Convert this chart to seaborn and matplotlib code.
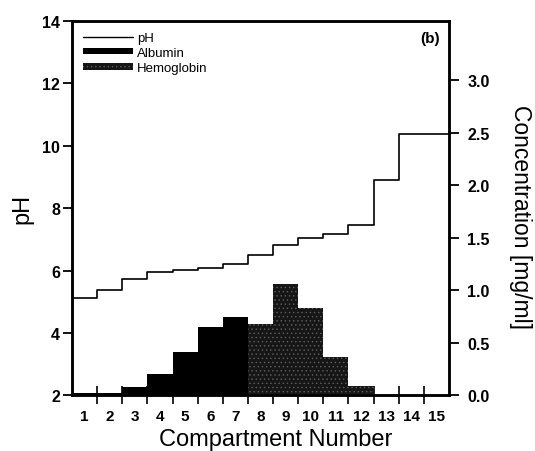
import numpy as np
import pandas as pd
import seaborn as sns
import matplotlib
matplotlib.use("Agg")
import matplotlib.pyplot as plt
from matplotlib.lines import Line2D
from matplotlib.patches import Patch

# ---- data ----
compartment = list(range(1, 16))
ph = [5.12, 5.39, 5.72, 5.96, 6.01, 6.08, 6.22, 6.51, 6.83, 7.04, 7.19, 7.45, 8.92, 10.39, 10.39]
albumin = [0.02, 0.02, 0.08, 0.20, 0.41, 0.65, 0.75, 0, 0, 0, 0, 0, 0, 0, 0]
hemoglobin = [0, 0, 0, 0, 0, 0, 0, 0.68, 1.06, 0.83, 0.37, 0.095, 0, 0, 0]
ph_ticks = [2, 4, 6, 8, 10, 12, 14]
conc_ticks = [0.0, 0.5, 1.0, 1.5, 2.0, 2.5, 3.0]

sns.set_theme(style="ticks")
plt.rcParams["font.family"] = ["Liberation Sans", "DejaVu Sans"]
plt.rcParams["hatch.linewidth"] = 0.5
for k in ("text.color", "axes.labelcolor", "xtick.color", "ytick.color", "axes.edgecolor"):
    plt.rcParams[k] = "black"

HB_FACE = "#161616"
HB_DOTS = "#5e5e5e"

fig = plt.figure(figsize=(5.35, 4.52), dpi=100)
ax = fig.add_axes([0.1346, 0.1228, 0.7047, 0.8285])
ax2 = ax.twinx()

# pH step line spanning compartment edges
comp = np.array(compartment, dtype=float)
edges = np.r_[comp - 0.5, comp[-1] + 0.5]
ph_df = pd.DataFrame({"x": edges, "pH": np.r_[ph, ph[-1]]})
sns.lineplot(data=ph_df, x="x", y="pH", drawstyle="steps-post", color="black",
             linewidth=1.2, ax=ax)

# concentration bars
sns.barplot(x=compartment, y=albumin, native_scale=True, width=1.0, color="black",
            saturation=1, linewidth=0, ax=ax2)
n_before = len(ax2.patches)
sns.barplot(x=compartment, y=hemoglobin, native_scale=True, width=1.0, color=HB_FACE,
            saturation=1, linewidth=0, edgecolor=HB_DOTS, ax=ax2)
for p in ax2.patches[n_before:]:
    p.set_hatch("....")

# axes limits
ax.set_xlim(edges[0], edges[-1])
ax2.set_xlim(edges[0], edges[-1])
ax.set_ylim(2, 14)
ax2.set_ylim(0, 3.565)

# ticks
ax.set_xticks(compartment)
ax.set_xticklabels([str(c) for c in compartment])
ax.set_xticks(edges[1:-1], minor=True)
ax.tick_params(axis="x", which="major", length=0, pad=10, labelsize=11)
ax.tick_params(axis="x", which="minor", direction="inout", length=13, width=1.2, color="black")
ax.set_yticks(ph_ticks)
ax.tick_params(axis="y", which="major", direction="out", length=6.5, width=1.3,
               color="black", labelsize=11.5, pad=2)
ax2.set_yticks(conc_ticks)
ax2.set_yticklabels([f"{v:.1f}" for v in conc_ticks])
ax2.tick_params(axis="y", which="major", direction="out", length=7, width=1.3,
                color="black", labelsize=11.5, pad=6)
for lab in ax.get_xticklabels() + ax.get_yticklabels() + ax2.get_yticklabels():
    lab.set_fontweight("bold")

for a in (ax, ax2):
    for s in a.spines.values():
        s.set_color("black")
        s.set_linewidth(1.8)
    a.grid(False)

ax.set_xlabel("Compartment Number", fontsize=17)
ax.xaxis.set_label_coords(0.54, -0.088)
ax.set_ylabel("pH", fontsize=17, labelpad=6)
ax2.set_ylabel("Concentration [mg/ml]", fontsize=16.5, rotation=270, va="bottom")
ax2.yaxis.set_label_coords(1.16, 0.48)

# legend
handles = [
    Line2D([], [], color="black", linewidth=1.0),
    Patch(facecolor="black", edgecolor="black", linewidth=0),
    Patch(facecolor=HB_FACE, edgecolor=HB_DOTS, linewidth=0, hatch="...."),
]
ax.legend(handles, ["pH", "Albumin", "Hemoglobin"], loc="upper left", frameon=False,
          fontsize=9.5, handlelength=3.8, handleheight=0.4, labelspacing=0.24,
          handletextpad=0.3, borderaxespad=0.4, borderpad=0.4)

ax.text(0.975, 0.973, "(b)", transform=ax.transAxes, ha="right", va="top",
        fontsize=11, fontweight="bold")

fig.savefig("out.png", dpi=100)
